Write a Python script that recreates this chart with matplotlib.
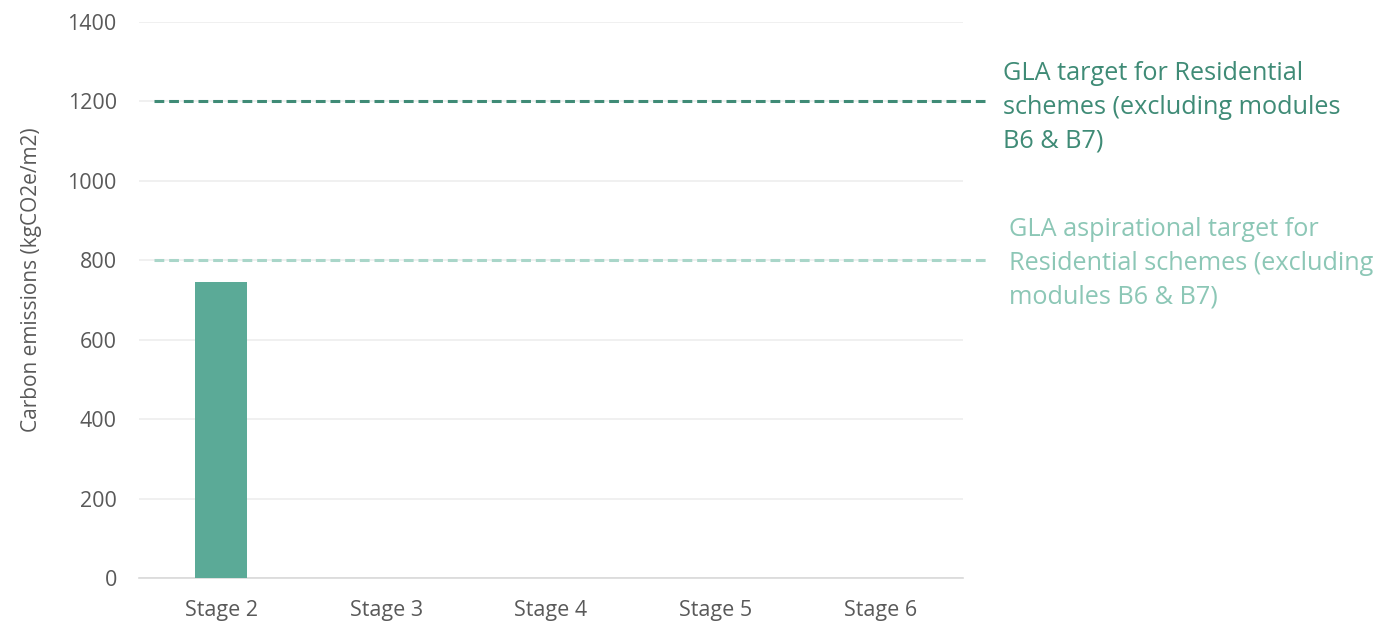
import matplotlib
matplotlib.use("Agg")
import matplotlib.pyplot as plt

# Data
stages = ["Stage 2", "Stage 3", "Stage 4", "Stage 5", "Stage 6"]
emissions = [745, 0, 0, 0, 0]
gla_target = 1200
gla_aspirational = 800
y_ticks = [0, 200, 400, 600, 800, 1000, 1200, 1400]
target_label = "GLA target for Residential\nschemes (excluding modules\nB6 & B7)"
aspirational_label = "GLA aspirational target for\nResidential schemes (excluding\nmodules B6 & B7)"

bar_color = "#5BAA97"
target_color = "#3F8B76"
aspirational_color = "#A9D6C9"
aspirational_text = "#8CC7B6"
text_gray = "#595959"

plt.rcParams["font.family"] = ["Open Sans", "DejaVu Sans"]

fig = plt.figure(figsize=(13.8, 6.22), dpi=100)
ax = fig.add_axes([139 / 1380, 1 - 578 / 622, 824 / 1380, 556 / 622])

x = range(len(stages))
ax.bar(x, emissions, width=0.316, color=bar_color, zorder=3)

ax.set_xlim(-0.5, len(stages) - 0.5)
ax.set_ylim(0, 1400)
ax.set_yticks(y_ticks)
ax.set_xticks(list(x))
ax.set_xticklabels(stages)

ax.grid(axis="y", color="#EEEEEE", linewidth=1.2, zorder=0)
ax.grid(axis="x", visible=False)
for side in ["top", "right", "left"]:
    ax.spines[side].set_visible(False)
ax.spines["bottom"].set_color("#D9D9D9")
ax.spines["bottom"].set_linewidth(1.2)
ax.tick_params(axis="both", length=0, colors=text_gray, labelsize=15.5)
ax.tick_params(axis="y", pad=16)
ax.tick_params(axis="x", pad=16)

ax.set_ylabel("Carbon emissions (kgCO2e/m2)", color=text_gray, fontsize=15, va="center")
ax.yaxis.set_label_coords(-0.13, 0.536)

# Target lines extending slightly past the plot area
ax.axhline(gla_target, xmin=0.018, xmax=1.027, color=target_color,
           linestyle=(0, (3.2, 1.6)), linewidth=2.2, clip_on=False, zorder=4)
ax.axhline(gla_aspirational, xmin=0.018, xmax=1.033, color=aspirational_color,
           linestyle=(0, (3.2, 1.6)), linewidth=2.2, clip_on=False, zorder=4)

ax.annotate(target_label, xy=(1003 / 1380, 1 - 107 / 622), xycoords="figure fraction",
            ha="left", va="center", fontsize=18.2, color=target_color, linespacing=1.45)
ax.annotate(aspirational_label, xy=(1009 / 1380, 1 - 263 / 622), xycoords="figure fraction",
            ha="left", va="center", fontsize=18.2, color=aspirational_text, linespacing=1.45)

fig.savefig("out.png", dpi=100)
